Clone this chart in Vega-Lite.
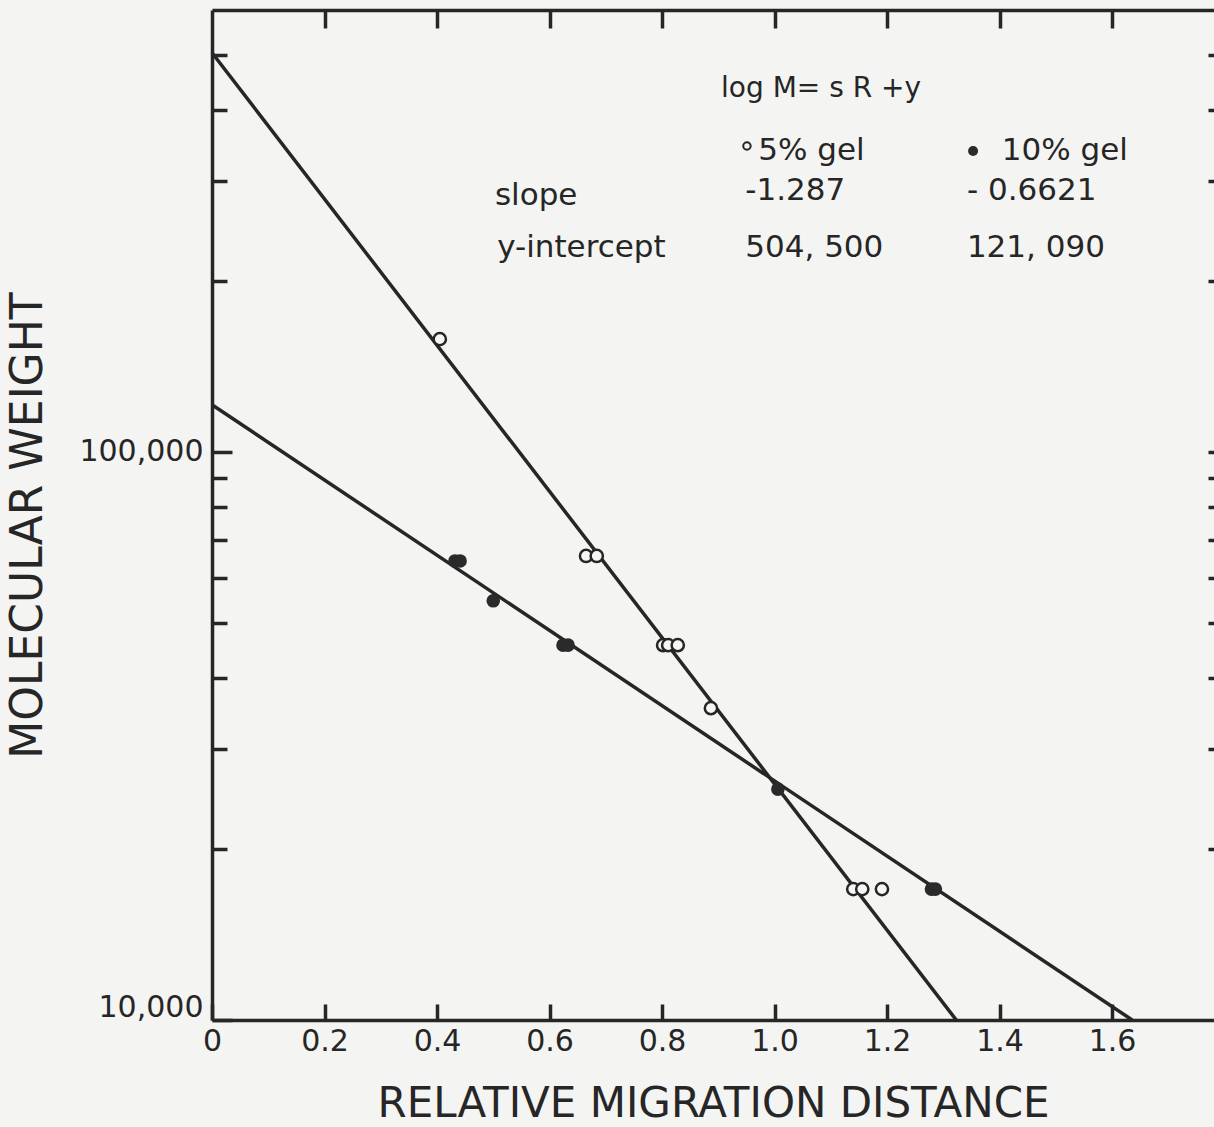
{
  "$schema": "https://vega.github.io/schema/vega-lite/v6.json",
  "autosize": {"type": "none"},
  "padding": {"left": 212, "top": 10, "right": 0, "bottom": 107},
  "width": 1002,
  "height": 1010,
  "background": "#f4f4f2",
  "config": {
    "view": {"stroke": null},
    "font": "DejaVu Sans",
    "axis": {
      "domainColor": "#262626",
      "domainWidth": 3.5,
      "tickColor": "#262626",
      "tickWidth": 3.5,
      "labelColor": "#262626",
      "labelFont": "DejaVu Sans",
      "labelFontSize": 30,
      "titleColor": "#262626",
      "titleFont": "DejaVu Sans",
      "titleFontWeight": "normal",
      "grid": false
    }
  },
  "datasets": {
    "fits": [
      {"gel": "5% gel", "R": 0, "M": 504500},
      {"gel": "5% gel", "R": 1.3231, "M": 10000},
      {"gel": "10% gel", "R": 0, "M": 121090},
      {"gel": "10% gel", "R": 1.6359, "M": 10000}
    ],
    "gel5": [
      {"R": 0.405, "M": 158000},
      {"R": 0.665, "M": 65600},
      {"R": 0.684, "M": 65600},
      {"R": 0.802, "M": 45700},
      {"R": 0.811, "M": 45700},
      {"R": 0.828, "M": 45700},
      {"R": 0.887, "M": 35400},
      {"R": 1.14, "M": 17000},
      {"R": 1.156, "M": 17000},
      {"R": 1.191, "M": 17000}
    ],
    "gel10": [
      {"R": 0.432, "M": 64300},
      {"R": 0.441, "M": 64300},
      {"R": 0.5, "M": 54700},
      {"R": 0.624, "M": 45700},
      {"R": 0.633, "M": 45700},
      {"R": 1.006, "M": 25500},
      {"R": 1.279, "M": 17000},
      {"R": 1.286, "M": 17000}
    ],
    "formula": [
      {"text": "log M= s R +y", "R": 0.905, "M": 421700}
    ],
    "table": [
      {"text": "5% gel", "R": 0.971, "M": 326400},
      {"text": "10% gel", "R": 1.404, "M": 326400},
      {"text": "slope", "R": 0.503, "M": 272000},
      {"text": "-1.287", "R": 0.948, "M": 277800},
      {"text": "- 0.6621", "R": 1.342, "M": 277800},
      {"text": "y-intercept", "R": 0.507, "M": 220400},
      {"text": "504, 500", "R": 0.948, "M": 220400},
      {"text": "121, 090", "R": 1.342, "M": 220400}
    ],
    "keyOpen": [{"R": 0.951, "M": 345700}],
    "keyFilled": [{"R": 1.353, "M": 338800}]
  },
  "layer": [
    {
      "data": {"name": "fits"},
      "mark": {"type": "line", "color": "#262626", "strokeWidth": 3.5},
      "encoding": {
        "x": {
          "field": "R", "type": "quantitative",
          "scale": {"domain": [0, 1.7813], "nice": false, "zero": false},
          "axis": {
            "orient": "bottom",
            "values": [0, 0.2, 0.4, 0.6, 0.8, 1.0, 1.2, 1.4, 1.6],
            "labelExpr": "datum.value === 0 ? '0' : format(datum.value, '.1f')",
            "tickSize": -16,
            "labelPadding": 22,
            "labelFlush": false,
            "labelOverlap": false,
            "title": "RELATIVE MIGRATION DISTANCE",
            "titleFontSize": 42,
            "titlePadding": 27
          }
        },
        "y": {
          "field": "M", "type": "quantitative",
          "scale": {"type": "log", "domain": [10000, 600000], "nice": false},
          "axis": {
            "orient": "left",
            "values": [10000, 100000],
            "labelExpr": "format(datum.value, ',')",
            "tickSize": -20,
            "labelPadding": 29,
            "labelFlush": true,
            "labelFlushOffset": 2,
            "labelOverlap": false,
            "title": "MOLECULAR WEIGHT",
            "titleFontSize": 44,
            "titlePadding": 28,
            "titleY": 515
          }
        },
        "detail": {"field": "gel"}
      }
    },
    {
      "data": {"name": "gel5"},
      "mark": {"type": "point", "shape": "circle", "filled": false, "fill": "#f7f7f5", "fillOpacity": 1, "stroke": "#262626", "strokeWidth": 2.5, "size": 150, "opacity": 1},
      "encoding": {
        "x": {
          "field": "R", "type": "quantitative",
          "scale": {"domain": [0, 1.7813], "nice": false, "zero": false},
          "axis": {
            "orient": "top",
            "values": [0.2, 0.4, 0.6, 0.8, 1.0, 1.2, 1.4, 1.6],
            "labels": false,
            "tickSize": -18,
            "title": null
          }
        },
        "y": {
          "field": "M", "type": "quantitative",
          "scale": {"type": "log", "domain": [10000, 600000], "nice": false},
          "axis": {
            "orient": "right",
            "values": [20000, 30000, 40000, 50000, 60000, 70000, 80000, 90000, 100000, 200000, 300000, 400000, 500000],
            "labels": false,
            "offset": 4,
            "tickSize": -10,
            "title": null
          }
        }
      }
    },
    {
      "data": {"name": "gel10"},
      "mark": {"type": "point", "shape": "circle", "filled": true, "color": "#2a2a2a", "size": 185, "opacity": 1},
      "encoding": {
        "x": {
          "field": "R", "type": "quantitative",
          "scale": {"domain": [0, 1.7813], "nice": false, "zero": false},
          "axis": null
        },
        "y": {
          "field": "M", "type": "quantitative",
          "scale": {"type": "log", "domain": [10000, 600000], "nice": false},
          "axis": {
            "orient": "left",
            "values": [20000, 30000, 40000, 50000, 60000, 70000, 80000, 90000, 200000, 300000, 400000, 500000],
            "labels": false,
            "domain": false,
            "tickSize": -15,
            "title": null
          }
        }
      }
    },
    {
      "data": {"name": "formula"},
      "mark": {"type": "text", "align": "left", "baseline": "alphabetic", "fontSize": 28, "color": "#262626"},
      "encoding": {
        "x": {"field": "R", "type": "quantitative", "scale": {"domain": [0, 1.7813], "nice": false, "zero": false}, "axis": null},
        "y": {"field": "M", "type": "quantitative", "scale": {"type": "log", "domain": [10000, 600000], "nice": false}, "axis": null},
        "text": {"field": "text"}
      }
    },
    {
      "data": {"name": "table"},
      "mark": {"type": "text", "align": "left", "baseline": "alphabetic", "fontSize": 31, "color": "#262626"},
      "encoding": {
        "x": {"field": "R", "type": "quantitative", "scale": {"domain": [0, 1.7813], "nice": false, "zero": false}, "axis": null},
        "y": {"field": "M", "type": "quantitative", "scale": {"type": "log", "domain": [10000, 600000], "nice": false}, "axis": null},
        "text": {"field": "text"}
      }
    },
    {
      "data": {"name": "keyOpen"},
      "mark": {"type": "point", "shape": "circle", "filled": false, "stroke": "#262626", "strokeWidth": 2, "size": 55, "opacity": 1},
      "encoding": {
        "x": {"field": "R", "type": "quantitative", "scale": {"domain": [0, 1.7813], "nice": false, "zero": false}, "axis": null},
        "y": {"field": "M", "type": "quantitative", "scale": {"type": "log", "domain": [10000, 600000], "nice": false}, "axis": null}
      }
    },
    {
      "data": {"name": "keyFilled"},
      "mark": {"type": "point", "shape": "circle", "filled": true, "color": "#2a2a2a", "size": 100, "opacity": 1},
      "encoding": {
        "x": {"field": "R", "type": "quantitative", "scale": {"domain": [0, 1.7813], "nice": false, "zero": false}, "axis": null},
        "y": {"field": "M", "type": "quantitative", "scale": {"type": "log", "domain": [10000, 600000], "nice": false}, "axis": null}
      }
    }
  ],
  "resolve": {"axis": {"x": "independent", "y": "independent"}}
}
